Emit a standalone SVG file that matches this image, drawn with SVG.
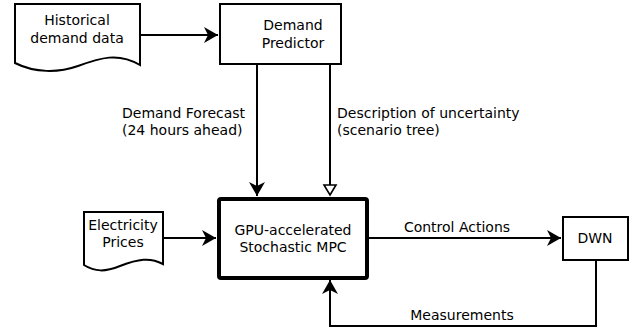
<svg xmlns="http://www.w3.org/2000/svg" width="644" height="331" viewBox="0 0 644 331">
<style>
text{font-family:"DejaVu Sans","Liberation Sans",sans-serif;font-size:14px;fill:#000}
.c{text-anchor:middle}
.s{fill:#fff;stroke:#000;stroke-width:2}
.l{fill:none;stroke:#000;stroke-width:2}
</style>
<defs>
<marker id="af" markerUnits="userSpaceOnUse" orient="auto" refX="0" refY="0" markerWidth="20" markerHeight="20" viewBox="-16 -10 20 20" overflow="visible">
<path d="M0,0 L-14,-8 L-10,0 L-14,8 Z" fill="#000"/>
</marker>
<marker id="ao" markerUnits="userSpaceOnUse" orient="auto" refX="0" refY="0" markerWidth="20" markerHeight="20" viewBox="-16 -10 20 20" overflow="visible">
<path d="M0,0 L-10,-6 L-10,6 Z" fill="#fff" stroke="#000" stroke-width="1.6"/>
</marker>
</defs>
<rect width="644" height="331" fill="#fff"/>
<g id="connectors">
<path class="l" d="M140,35 H218" marker-end="url(#af)"/>
<path class="l" d="M257,64 V196" marker-end="url(#af)"/>
<path class="l" d="M330,64 V195" marker-end="url(#ao)"/>
<path class="l" d="M163,238 H216" marker-end="url(#af)"/>
<path class="l" d="M369,238 H561" marker-end="url(#af)"/>
<path class="l" d="M596,260 V326 H330 V280" marker-end="url(#af)"/>
<text x="122" y="118">Demand Forecast</text>
<text x="122" y="135">(24 hours ahead)</text>
<text x="337" y="118">Description of uncertainty</text>
<text x="337" y="135">(scenario tree)</text>
<text class="c" x="457" y="232">Control Actions</text>
<text class="c" x="462" y="320">Measurements</text>
</g>
<g id="historical">
<path class="s" d="M15,4 H140 V65 C118,52 100,58 78,66 C58,73 35,73 15,63 Z"/>
<text class="c" x="77" y="25">Historical</text>
<text class="c" x="77" y="43">demand data</text>
</g>
<g id="predictor">
<rect class="s" x="220" y="4" width="121" height="60"/>
<text class="c" x="293" y="30">Demand</text>
<text class="c" x="293" y="48">Predictor</text>
</g>
<g id="prices">
<path class="s" d="M84,212 H163 V264 C150,257 138,259 120,266 C105,272 95,272 84,265 Z"/>
<text class="c" x="123" y="230">Electricity</text>
<text class="c" x="123" y="247">Prices</text>
</g>
<g id="mpc">
<rect x="219" y="199" width="148" height="79" rx="2" fill="#fff" stroke="#000" stroke-width="4"/>
<text class="c" x="293" y="235">GPU-accelerated</text>
<text class="c" x="293" y="252">Stochastic MPC</text>
</g>
<g id="dwn">
<rect class="s" x="563" y="217" width="65" height="43"/>
<text class="c" x="595" y="243">DWN</text>
</g>
</svg>
